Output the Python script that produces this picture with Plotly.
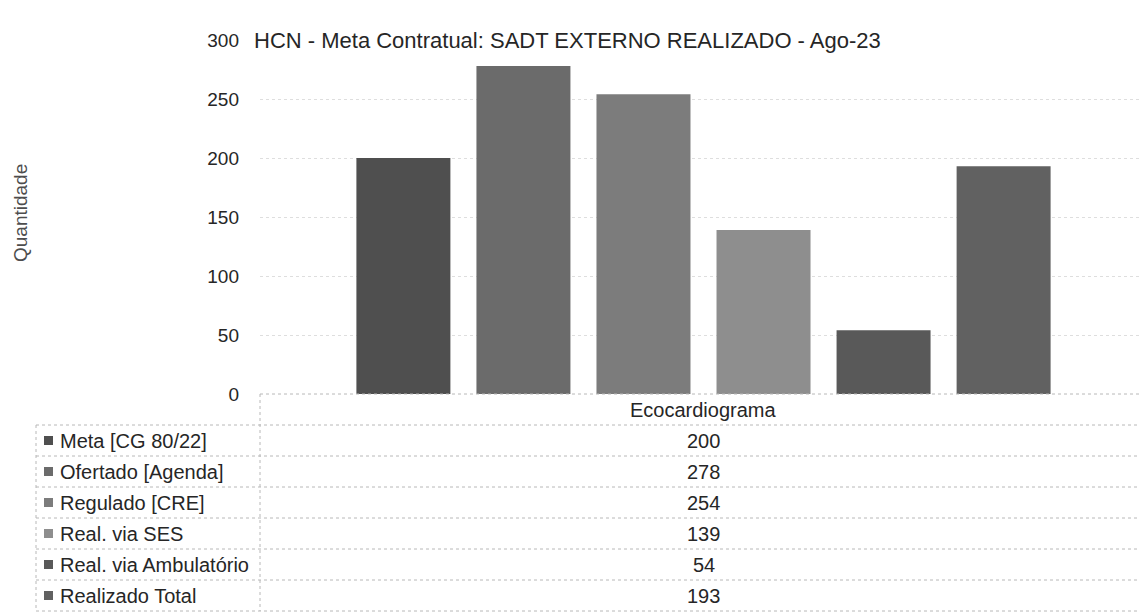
import plotly.graph_objects as go

# ---------------- data ----------------
categories = ["Ecocardiograma"]
series_names = ["Meta [CG 80/22]", "Ofertado [Agenda]", "Regulado [CRE]",
                "Real. via SES", "Real. via Ambulatório", "Realizado Total"]
series_values = [[200], [278], [254], [139], [54], [193]]
y_ticks = [0, 50, 100, 150, 200, 250, 300]
title_text = "HCN - Meta Contratual: SADT EXTERNO REALIZADO - Ago-23"
y_title = "Quantidade"

# ---------------- styles ----------------
colors = ["#4f4f4f", "#6b6b6b", "#7c7c7c", "#8e8e8e", "#595959", "#616161"]
FONT = "Liberation Sans, Arial, sans-serif"
TXT = "#262626"
LINE = "#b8b8b8"

OFF = 8  # page body margin in the browser
W, H = 1147 - OFF, 612 - OFF
# layout in screen (reference) pixels
S_L, S_T, S_BASE = 260, 40, 394
L, T = S_L - OFF, S_T - OFF
BASE = S_BASE - OFF
R, B = 0, H - BASE
PW, PH = W - L - R, H - T - B


def px(sx):
    """screen x -> paper x"""
    return (sx - OFF - L) / PW


def py(sy):
    """screen y -> paper y"""
    return (BASE - (sy - OFF)) / PH


fig = go.Figure()
for name, vals, col in zip(series_names, series_values, colors):
    fig.add_trace(go.Bar(x=categories, y=vals, name=name,
                         marker=dict(color=col, line=dict(width=0))))

shapes = []
annotations = []

# table geometry (screen pixels)
header_top = S_BASE
row_top = 425
row_h = 31
n = len(series_names)
left_x = 36
split_x = 260
right_x = 1160

lstyle = dict(color=LINE, width=1, dash="dot")
shapes.append(dict(type="line", xref="paper", yref="paper",
                   x0=px(split_x), x1=px(right_x), y0=py(header_top), y1=py(header_top), line=lstyle))
for i in range(n + 1):
    yy = row_top + i * row_h
    shapes.append(dict(type="line", xref="paper", yref="paper",
                       x0=px(left_x), x1=px(right_x), y0=py(yy), y1=py(yy), line=lstyle))
shapes.append(dict(type="line", xref="paper", yref="paper",
                   x0=px(left_x), x1=px(left_x), y0=py(row_top), y1=py(row_top + n * row_h), line=lstyle))
shapes.append(dict(type="line", xref="paper", yref="paper",
                   x0=px(split_x), x1=px(split_x), y0=py(header_top), y1=py(row_top + n * row_h), line=lstyle))

annotations.append(dict(text=categories[0], xref="paper", yref="paper",
                        x=0.5, y=py((header_top + row_top) / 2), xanchor="center", yanchor="middle",
                        showarrow=False, font=dict(size=20, color=TXT, family=FONT)))

for i, (name, vals, col) in enumerate(zip(series_names, series_values, colors)):
    cy = row_top + i * row_h + row_h / 2
    shapes.append(dict(type="rect", xref="paper", yref="paper",
                       x0=px(44), x1=px(53), y0=py(cy - 4.5), y1=py(cy + 4.5),
                       fillcolor=col, line=dict(width=0)))
    annotations.append(dict(text=name, xref="paper", yref="paper",
                            x=px(58), y=py(cy), xanchor="left", yanchor="middle",
                            showarrow=False, font=dict(size=20, color=TXT, family=FONT)))
    annotations.append(dict(text=str(vals[0]), xref="paper", yref="paper",
                            x=0.5, y=py(cy), xanchor="center", yanchor="middle",
                            showarrow=False, font=dict(size=20, color=TXT, family=FONT)))

annotations.append(dict(text=y_title, xref="paper", yref="paper",
                        x=px(20), y=py(213), xanchor="center", yanchor="middle", textangle=-90,
                        showarrow=False, font=dict(size=19, color="#4d4d4d", family=FONT)))

fig.update_layout(
    width=W, height=H,
    margin=dict(l=L, r=R, t=T, b=B, pad=0),
    paper_bgcolor="white", plot_bgcolor="white",
    showlegend=False,
    barmode="group", bargap=0.188, bargroupgap=0.217,
    font=dict(family=FONT, color=TXT),
    title=dict(text=title_text, x=(254 - OFF) / W, xref="container", xanchor="left",
               y=1 - (40 - OFF) / H, yref="container", yanchor="middle",
               font=dict(size=22, color=TXT, family=FONT)),
    xaxis=dict(showticklabels=False, showgrid=False, zeroline=False, showline=False,
               fixedrange=True),
    yaxis=dict(range=[0, 300], tickvals=y_ticks, ticktext=[str(t) for t in y_ticks],
               showgrid=True, gridcolor="#dedede", griddash="dot", gridwidth=1,
               zeroline=False, showline=False, ticks="",
               tickfont=dict(size=19, color=TXT, family=FONT), ticklabelstandoff=20,
               fixedrange=True),
    shapes=shapes, annotations=annotations,
)

fig.write_html("out.html")
